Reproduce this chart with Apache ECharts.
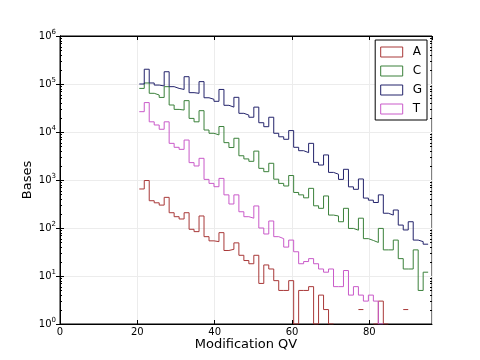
<!DOCTYPE html>
<html><head><meta charset="utf-8">
<script src="https://cdn.jsdelivr.net/npm/echarts@6/dist/echarts.min.js"></script>
<style>html,body{margin:0;padding:0;background:#fff}#c{width:480px;height:360px}</style>
</head><body><div id="c"></div><script>
const seriesNames = ['A', 'C', 'G', 'T'];
const seriesColors = ['#a83838', '#3a803a', '#23236b', '#c95ac9'];
const binStart = 20.5;
const binWidth = 1.288;
const xTicks = [0, 20, 40, 60, 80];
const countsA = [650,975,370,335,300,435,208,172,154,208,
  94,84,178,66,54,52,80,34,36,49,
  27,21,18,27,7,17,14,8,5,5,
  8,1,5,5,6,1,4,2,1,0,
  0,0,0,0,2,0,0,1,3,1,
  0,0,0,2,0,0,0,0];
const countsC = [81000,105000,64000,59000,52500,88000,36500,29600,28700,45000,
  19200,16300,27800,11000,9400,8700,13000,6000,4750,7400,
  3200,2750,2450,4000,1750,1490,2230,1040,850,750,
  1240,550,490,425,670,290,257,465,186,178,
  135,257,98,90,160,60,55,50,98,35,
  35,56,23,14,14,35,5,12];
const countsG = [100000,203000,105000,95000,91000,180000,88000,81000,77000,142000,
  66000,64000,112000,51700,48000,43600,77000,36000,33000,52800,
  24500,22500,20300,33000,15600,12900,20300,9400,7950,7050,
  10700,4800,4080,3720,5800,2330,2050,3330,1440,1320,
  1030,1670,720,640,1050,420,380,340,490,203,
  186,237,115,91,135,56,52,46];
const countsT = [26500,41000,16300,14000,11400,16300,5800,4800,4350,6800,
  2300,1960,2830,1030,850,725,1080,490,316,490,
  218,172,160,288,100,75,140,66,60,40,
  56,32,18,20,23,18,14,12,14,6,
  6,13,4,6,4,3,4,3,1,0,
  0,0,0,0,0,0,0,0];
const allCounts = [countsA, countsC, countsG, countsT];
const xMin = 0, xMax = 96.2;
const decades = [0, 1, 2, 3, 4, 5];
const minorMultipliers = [2, 3, 4, 5, 6, 7, 8, 9];

function stepPoints(counts) {
  const pts = [];
  counts.forEach((v, k) => {
    const x0 = binStart + k * binWidth, x1 = x0 + binWidth;
    const y = v > 0 ? v : '-';
    pts.push([x0, y], [x1, y]);
  });
  return pts;
}

const minorTickValues = [];
decades.forEach(d => minorMultipliers.forEach(m => minorTickValues.push([xMin, m * Math.pow(10, d)])));

const font = 'DejaVu Sans';
const chart = echarts.init(document.getElementById('c'), null, {renderer: 'canvas'});
const supRich = {
  b: {fontSize: 10, fontFamily: font, color: '#000'},
  s: {fontSize: 7, fontFamily: font, color: '#000', padding: [0, 0, 7, 0]}
};
const series = seriesNames.map((n, i) => ({
  name: n, type: 'line', xAxisIndex: 0, yAxisIndex: 0,
  data: stepPoints(allCounts[i]),
  showSymbol: false, symbol: 'none', connectNulls: false, clip: true,
  lineStyle: {color: seriesColors[i], width: 1},
  itemStyle: {color: seriesColors[i]},
  z: 2
}));
series.push({
  type: 'custom', name: 'minorTicks', xAxisIndex: 0, yAxisIndex: 0,
  data: minorTickValues, silent: true, z: 5, clip: false,
  renderItem: (params, api) => {
    const v = api.value(1);
    const l = api.coord([xMin, v]);
    const r = api.coord([xMax, v]);
    const st = {stroke: '#000', lineWidth: 1};
    return {type: 'group', children: [
      {type: 'line', shape: {x1: l[0], y1: Math.round(l[1]) + 0.5, x2: l[0] + 2, y2: Math.round(l[1]) + 0.5}, style: st},
      {type: 'line', shape: {x1: r[0] - 2, y1: Math.round(r[1]) + 0.5, x2: r[0], y2: Math.round(r[1]) + 0.5}, style: st}
    ]};
  }
});
chart.setOption({
  backgroundColor: '#fff',
  animation: false,
  grid: {left: 60, right: 48, top: 36, bottom: 36, show: true, borderColor: '#000', borderWidth: 1, backgroundColor: 'transparent'},
  legend: {
    orient: 'vertical', right: 53, top: 40,
    icon: 'rect', itemWidth: 22, itemHeight: 10, itemGap: 7,
    padding: [6, 5, 5, 5],
    borderColor: '#000', borderWidth: 1, backgroundColor: '#fff',
    textStyle: {fontFamily: font, fontSize: 12, color: '#000', padding: [0, 0, 0, 5]},
    data: seriesNames.map((n, i) => ({name: n, itemStyle: {color: '#fff', borderColor: seriesColors[i], borderWidth: 1}}))
  },
  xAxis: [{
    type: 'value', min: xMin, max: xMax, interval: 20, position: 'bottom',
    name: 'Modification QV', nameLocation: 'middle', nameGap: 14, nameMoveOverlap: false,
    nameTextStyle: {fontFamily: font, fontSize: 13, color: '#000'},
    axisLine: {show: true, lineStyle: {color: '#000', width: 1}},
    axisTick: {show: true, inside: true, length: 4, lineStyle: {color: '#000'}},
    axisLabel: {fontFamily: font, fontSize: 10, color: '#000', margin: 3, showMaxLabel: false,
      formatter: v => xTicks.includes(v) ? String(v) : ''},
    splitLine: {show: true, lineStyle: {color: '#ececec', width: 1}}
  }, {
    type: 'value', min: xMin, max: xMax, interval: 20, position: 'top',
    axisLine: {show: true, lineStyle: {color: '#000'}},
    axisTick: {show: true, inside: true, length: 4, lineStyle: {color: '#000'}},
    axisLabel: {show: false}, splitLine: {show: false}
  }],
  yAxis: [{
    type: 'log', logBase: 10, min: 1, max: 1e6, position: 'left',
    name: 'Bases', nameLocation: 'middle', nameGap: 26, nameMoveOverlap: false,
    nameTextStyle: {fontFamily: font, fontSize: 13, color: '#000'},
    axisLine: {show: true, lineStyle: {color: '#000', width: 1}},
    axisTick: {show: true, inside: true, length: 4, lineStyle: {color: '#000'}},
    axisLabel: {margin: 4, formatter: v => '{b|10}{s|' + Math.round(Math.log10(v)) + '}', rich: supRich},
    splitLine: {show: true, lineStyle: {color: '#ececec', width: 1}}
  }, {
    type: 'log', logBase: 10, min: 1, max: 1e6, position: 'right',
    axisLine: {show: true, lineStyle: {color: '#000'}},
    axisTick: {show: true, inside: true, length: 4, lineStyle: {color: '#000'}},
    axisLabel: {show: false}, splitLine: {show: false}
  }],
  series: series
});
</script></body></html>
